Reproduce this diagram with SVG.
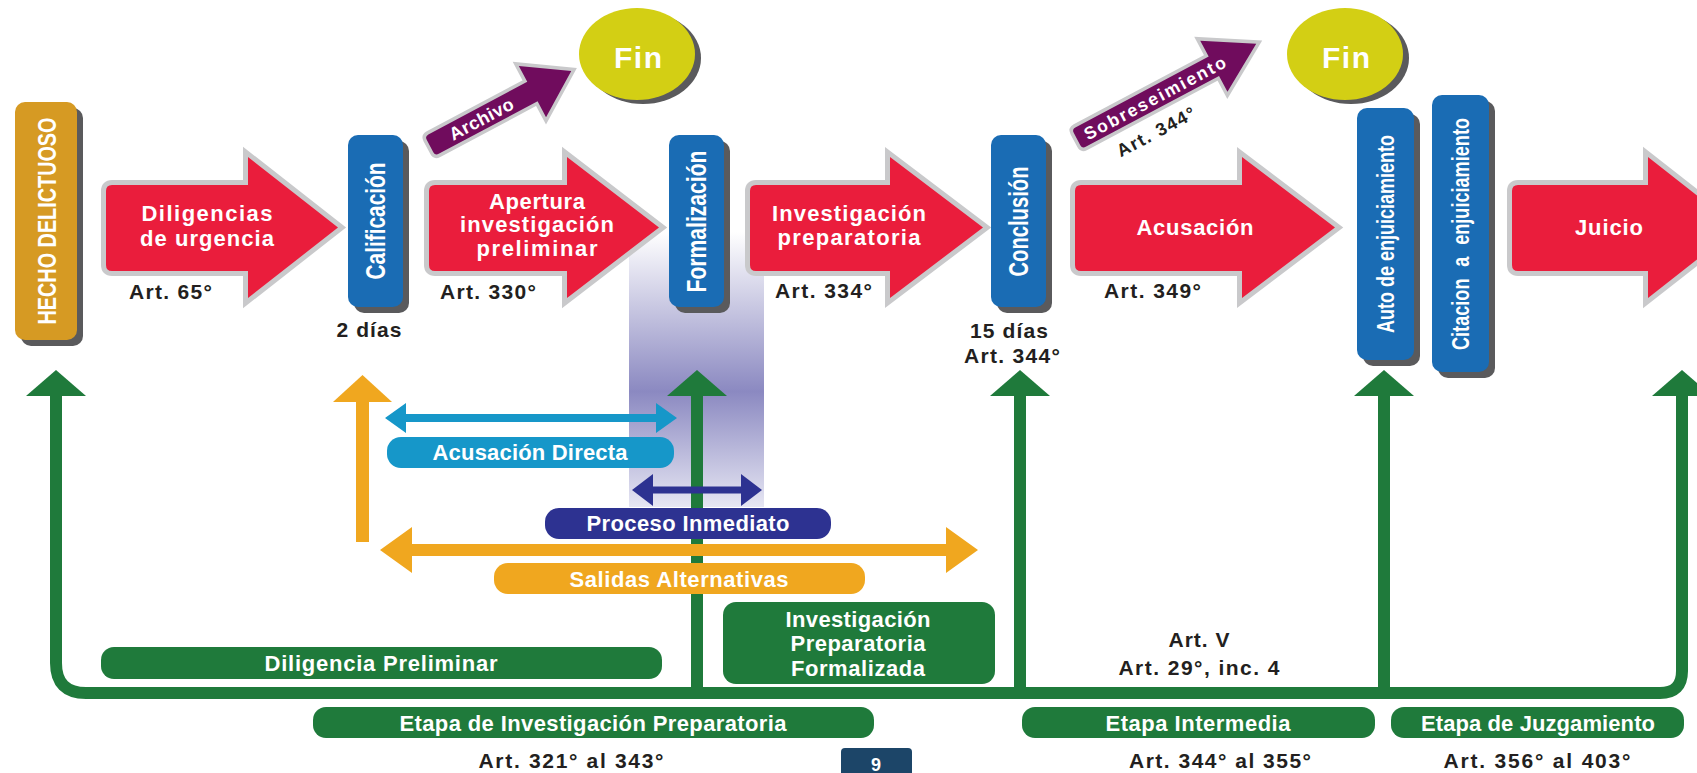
<svg xmlns="http://www.w3.org/2000/svg" xmlns:xlink="http://www.w3.org/1999/xlink" width="1697" height="773" viewBox="0 0 1697 773">
<style>
.red{fill:#EA1D3C}
.halo{fill:#C9C9CB;stroke:#C9C9CB;stroke-width:10;stroke-linejoin:miter}
.phalo{fill:#C9C9CB;stroke:#C9C9CB;stroke-width:7;stroke-linejoin:miter}
.purple{fill:#700C5D}
.blue{fill:#1A6CB4}
.gold{fill:#D69A23}
.shd{fill:#5A5A5C}
.fin{fill:#D3CF14}
.gfill{fill:#1F7A3B}
.gline{fill:none;stroke:#1F7A3B;stroke-width:12}
.ofill{fill:#F0A71F}
.lbfill{fill:#1697C9}
.dbfill{fill:#2D3291}
.t{font-family:"Liberation Sans",Arial,Helvetica,sans-serif;font-weight:bold}
.w{fill:#FFFFFF}
.k{fill:#231F20}
.m{text-anchor:middle}
.s22{font-size:22px}
.art{font-size:21px}
</style>
<defs>
<linearGradient id="band" x1="0" y1="0" x2="0" y2="1">
<stop offset="0" stop-color="#FFFFFF"/>
<stop offset="0.58" stop-color="#8B89C1"/>
<stop offset="1" stop-color="#E6E6F3"/>
</linearGradient>
<path id="gh" d="M0,0 L30,26 L-30,26 Z"/>
<path id="a1" d="M112,185 H248 V157 L338,227.5 L248,298 V271 H112 Q106,271 106,265 V191 Q106,185 112,185 Z"/>
<path id="a2" d="M435,185 H567 V157 L659,227.5 L567,298 V271 H435 Q429,271 429,265 V191 Q429,185 435,185 Z"/>
<path id="a3" d="M756,185 H890 V157 L983,227.5 L890,298 V271 H756 Q750,271 750,265 V191 Q750,185 756,185 Z"/>
<path id="a4" d="M1081,185 H1242 V157 L1335,227.5 L1242,298 V271 H1081 Q1075,271 1075,265 V191 Q1075,185 1081,185 Z"/>
<path id="a5" d="M1518,185 H1648 V157 L1738,227.5 L1648,298 V271 H1518 Q1512,271 1512,265 V191 Q1512,185 1518,185 Z"/>
<path id="parc" d="M4,-11 H116 V-29 L160,0 L116,29 V11 H4 Q0,11 0,7 V-7 Q0,-11 4,-11 Z"/>
<path id="psob" d="M4,-11 H155 V-29 L203,0 L155,29 V11 H4 Q0,11 0,7 V-7 Q0,-11 4,-11 Z"/>
</defs>
<rect x="0" y="0" width="1697" height="773" fill="#FFFFFF"/>

<!-- background band -->
<rect id="band-formalizacion" x="629" y="232" width="135" height="275" fill="url(#band)"/>

<!-- connectors -->
<g id="connectors">
  <path class="gline" d="M56,392 V663 Q56,693 86,693 H1660 Q1682,693 1682,671 V392"/>
  <path class="gline" d="M697,392 V693 M1020,392 V693 M1384,392 V693"/>
  <use xlink:href="#gh" class="gfill" x="56" y="370"/>
  <use xlink:href="#gh" class="gfill" x="697" y="370"/>
  <use xlink:href="#gh" class="gfill" x="1020" y="370"/>
  <use xlink:href="#gh" class="gfill" x="1384" y="370"/>
  <use xlink:href="#gh" class="gfill" x="1682" y="370"/>
  <path class="ofill" d="M356,398 H369 V542 H356 Z"/>
  <path class="ofill" d="M362.5,375 L392,402 L333,402 Z"/>
  <path class="lbfill" d="M385,418 L406,403 L406,414 L656,414 L656,403 L677,418 L656,433 L656,422 L406,422 L406,433 Z"/>
  <path class="dbfill" d="M632,490 L653,474 L653,486.5 L741,486.5 L741,474 L762,490 L741,506 L741,493.5 L653,493.5 L653,506 Z"/>
  <path class="ofill" d="M380,550 L412,527 L412,544 L946,544 L946,527 L978,550 L946,573 L946,556 L412,556 L412,573 Z"/>
  <g id="archivo" transform="translate(430,146) rotate(-28)">
    <use xlink:href="#parc" class="phalo"/>
    <use xlink:href="#parc" class="purple"/>
    <text class="t w m" x="58" y="6.5" font-size="18" textLength="70">Archivo</text>
  </g>
  <g id="sobreseimiento" transform="translate(1077,139) rotate(-28)">
    <use xlink:href="#psob" class="phalo"/>
    <use xlink:href="#psob" class="purple"/>
    <text class="t w m" x="88" y="6.5" font-size="17.5" textLength="158">Sobreseimiento</text>
    <text class="t k m" x="73" y="37" font-size="18" textLength="86">Art. 344°</text>
  </g>
</g>

<!-- nodes -->
<g id="hecho">
  <rect class="shd" x="21" y="108" width="62" height="238" rx="10"/>
  <rect class="gold" x="15" y="102" width="62" height="238" rx="10"/>
  <text class="t w m" font-size="26" textLength="207" lengthAdjust="spacingAndGlyphs" transform="translate(55.5,221) rotate(-90)">HECHO DELICTUOSO</text>
</g>

<g id="diligencias">
  <use xlink:href="#a1" class="halo"/>
  <use xlink:href="#a1" class="red"/>
  <text class="t w m s22" x="207" y="221" textLength="131">Diligencias</text>
  <text class="t w m s22" x="207" y="245.5" textLength="134">de urgencia</text>
  <text class="t k art" x="129" y="299" textLength="83">Art. 65°</text>
</g>

<g id="calificacion">
  <rect class="shd" x="354" y="141" width="55" height="172" rx="10"/>
  <rect class="blue" x="348" y="135" width="55" height="172" rx="10"/>
  <text class="t w m" font-size="27" textLength="117" lengthAdjust="spacingAndGlyphs" transform="translate(385,221) rotate(-90)">Calificación</text>
  <text class="t k m art" x="369" y="337" textLength="65">2 días</text>
</g>

<g id="fin1">
  <ellipse class="shd" cx="643" cy="58" rx="58" ry="46"/>
  <ellipse class="fin" cx="637" cy="54" rx="58" ry="46"/>
  <text class="t w m" x="638" y="68" font-size="30" textLength="48">Fin</text>
</g>

<g id="apertura">
  <use xlink:href="#a2" class="halo"/>
  <use xlink:href="#a2" class="red"/>
  <text class="t w m s22" x="537" y="209" textLength="96">Apertura</text>
  <text class="t w m s22" x="537" y="232" textLength="154">investigación</text>
  <text class="t w m s22" x="537" y="255.5" textLength="121">preliminar</text>
  <text class="t k art" x="440" y="299" textLength="96">Art. 330°</text>
</g>

<g id="formalizacion">
  <rect class="shd" x="675" y="141" width="55" height="172" rx="10"/>
  <rect class="blue" x="669" y="135" width="55" height="172" rx="10"/>
  <text class="t w m" font-size="27" textLength="142" lengthAdjust="spacingAndGlyphs" transform="translate(706,221.5) rotate(-90)">Formalización</text>
</g>

<g id="investigacion">
  <use xlink:href="#a3" class="halo"/>
  <use xlink:href="#a3" class="red"/>
  <text class="t w m s22" x="849" y="221" textLength="154">Investigación</text>
  <text class="t w m s22" x="849" y="245" textLength="143">preparatoria</text>
  <text class="t k art" x="775" y="298" textLength="97">Art. 334°</text>
</g>

<g id="conclusion">
  <rect class="shd" x="997" y="141" width="55" height="172" rx="10"/>
  <rect class="blue" x="991" y="135" width="55" height="172" rx="10"/>
  <text class="t w m" font-size="27" textLength="110" lengthAdjust="spacingAndGlyphs" transform="translate(1028,221.5) rotate(-90)">Conclusión</text>
  <text class="t k m art" x="1009" y="338" textLength="78">15 días</text>
  <text class="t k m art" x="1012" y="363" textLength="96">Art. 344°</text>
</g>

<g id="acusacion">
  <use xlink:href="#a4" class="halo"/>
  <use xlink:href="#a4" class="red"/>
  <text class="t w m s22" x="1195" y="235" textLength="117">Acusación</text>
  <text class="t k art" x="1104" y="298" textLength="97">Art. 349°</text>
</g>

<g id="fin2">
  <ellipse class="shd" cx="1351" cy="58" rx="58" ry="46"/>
  <ellipse class="fin" cx="1345" cy="54" rx="58" ry="46"/>
  <text class="t w m" x="1346" y="68" font-size="30" textLength="48">Fin</text>
</g>

<g id="auto">
  <rect class="shd" x="1363" y="114" width="57" height="252" rx="10"/>
  <rect class="blue" x="1357" y="108" width="57" height="252" rx="10"/>
  <text class="t w m" font-size="24" textLength="198" lengthAdjust="spacingAndGlyphs" transform="translate(1394,234) rotate(-90)">Auto de enjuiciamiento</text>
</g>

<g id="citacion">
  <rect class="shd" x="1438" y="101" width="57" height="277" rx="10"/>
  <rect class="blue" x="1432" y="95" width="57" height="277" rx="10"/>
  <text class="t w m" font-size="24" word-spacing="9" textLength="232" lengthAdjust="spacingAndGlyphs" transform="translate(1469,234) rotate(-90)">Citacion a enjuiciamiento</text>
</g>

<g id="juicio">
  <use xlink:href="#a5" class="halo"/>
  <use xlink:href="#a5" class="red"/>
  <text class="t w m s22" x="1609" y="235" textLength="68">Juicio</text>
</g>

<g id="acusacion-directa">
  <rect class="lbfill" x="387" y="437" width="287" height="31" rx="14"/>
  <text class="t w m s22" x="530" y="460" textLength="195">Acusación Directa</text>
</g>

<g id="proceso-inmediato">
  <rect class="dbfill" x="545" y="508" width="286" height="31" rx="14"/>
  <text class="t w m s22" x="688" y="531" textLength="203">Proceso Inmediato</text>
</g>

<g id="salidas-alternativas">
  <rect class="ofill" x="494" y="563" width="371" height="31" rx="14"/>
  <text class="t w m s22" x="679" y="586.5" textLength="219">Salidas Alternativas</text>
</g>

<g id="ipf">
  <rect class="gfill" x="723" y="602" width="272" height="82" rx="13"/>
  <text class="t w m s22" x="858" y="626.5" textLength="145">Investigación</text>
  <text class="t w m s22" x="858" y="651" textLength="135">Preparatoria</text>
  <text class="t w m s22" x="858" y="676" textLength="134">Formalizada</text>
</g>

<g id="diligencia-preliminar">
  <rect class="gfill" x="101" y="647" width="561" height="32" rx="13"/>
  <text class="t w m s22" x="381" y="671" textLength="233">Diligencia Preliminar</text>
</g>

<g id="art-v">
  <text class="t k m art" x="1199" y="647" textLength="61">Art. V</text>
  <text class="t k m art" x="1199" y="675" textLength="161">Art. 29°, inc. 4</text>
</g>

<g id="etapa-investigacion">
  <rect class="gfill" x="313" y="707" width="561" height="31" rx="13"/>
  <text class="t w m s22" x="593" y="730.5" textLength="387">Etapa de Investigación Preparatoria</text>
  <text class="t k m art" x="571" y="768" textLength="185">Art. 321° al 343°</text>
</g>

<g id="etapa-intermedia">
  <rect class="gfill" x="1022" y="707" width="353" height="31" rx="13"/>
  <text class="t w m s22" x="1198" y="730.5" textLength="185">Etapa Intermedia</text>
  <text class="t k m art" x="1220" y="768" textLength="182">Art. 344° al 355°</text>
</g>

<g id="etapa-juzgamiento">
  <rect class="gfill" x="1391" y="707" width="293" height="31" rx="13"/>
  <text class="t w m s22" x="1538" y="730.5" textLength="234">Etapa de Juzgamiento</text>
  <text class="t k m art" x="1537" y="768" textLength="187">Art. 356° al 403°</text>
</g>

<g id="page-number">
  <rect x="841" y="748" width="71" height="32" rx="4" fill="#1C4568"/>
  <text class="t w m" x="876" y="771" font-size="18">9</text>
</g>
</svg>
